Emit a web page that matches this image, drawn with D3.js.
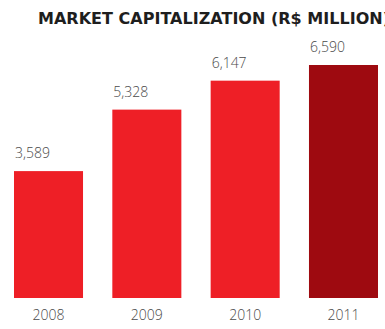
<!DOCTYPE html>
<html>
<head>
<meta charset="utf-8">
<script src="https://cdn.jsdelivr.net/npm/d3@7"></script>
<style>
  html, body { margin: 0; padding: 0; background: #fff; overflow: hidden; }
  svg { display: block; }
</style>
</head>
<body>
<script>
// Market capitalization by year, R$ million
const years = ["2008", "2009", "2010", "2011"];
const values = [3589, 5328, 6147, 6590];
const valueLabels = ["3,589", "5,328", "6,147", "6,590"];
const barColors = ["#ee1f26", "#ee1f26", "#ee1f26", "#9e0a10"];
const title = "MARKET CAPITALIZATION (R$ MILLION)";

const W = 385, H = 329;
const svg = d3.select("body").append("svg").attr("width", W).attr("height", H);

const x = d3.scaleBand().domain(years).range([14, 378]).paddingInner(0.298).paddingOuter(0);
const y = d3.scaleLinear().domain([0, 6590]).range([298, 65]);

// Title
svg.append("text")
  .attr("x", 38).attr("y", 24)
  .attr("font-family", "DejaVu Sans")
  .attr("font-weight", "bold")
  .attr("font-size", 15)
  .attr("fill", "#1e1e1e")
  .attr("textLength", 352)
  .attr("lengthAdjust", "spacingAndGlyphs")
  .text(title);

// Bars
svg.selectAll("rect.bar")
  .data(years)
  .join("rect")
  .attr("class", "bar")
  .attr("x", d => x(d))
  .attr("width", x.bandwidth())
  .attr("y", (d, i) => y(values[i]))
  .attr("height", (d, i) => y(0) - y(values[i]))
  .attr("fill", (d, i) => barColors[i]);

// Value labels above bars
svg.selectAll("text.val")
  .data(years)
  .join("text")
  .attr("class", "val")
  .attr("x", d => x(d) + 1)
  .attr("y", (d, i) => y(values[i]) - 13)
  .attr("font-family", "Open Sans")
  .attr("font-weight", 300)
  .attr("font-size", 14)
  .attr("fill", "#4a4a4a")
  .text((d, i) => valueLabels[i]);

// Year axis labels
const xAxis = d3.axisBottom(x).tickSize(0).tickPadding(0);
const ax = svg.append("g").attr("transform", "translate(0,310)").call(xAxis);
ax.select(".domain").remove();
ax.selectAll("text")
  .attr("font-family", "Open Sans")
  .attr("font-weight", 300)
  .attr("font-size", 14)
  .attr("fill", "#4a4a4a");
</script>
</body>
</html>
